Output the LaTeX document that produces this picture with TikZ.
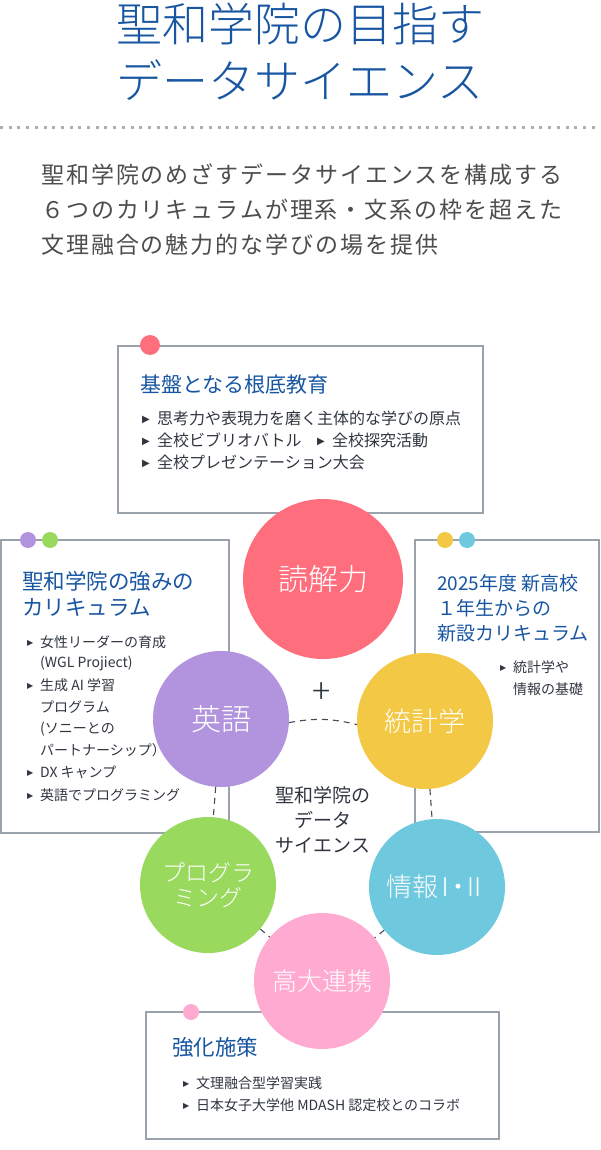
\documentclass[tikz,border=0pt]{standalone}
\usepackage{fontspec}
\setmainfont{Noto Sans CJK JP}
\newfontfamily\trifont{DejaVu Sans}
\newfontfamily\widefont[LetterSpace=8.5]{Noto Sans CJK JP}
\newfontfamily\lightfont{Noto Sans CJK JP Light}
\usepackage{tikz}
\usetikzlibrary{positioning}

\definecolor{titleblue}{RGB}{24,86,162}
\definecolor{leadgray}{RGB}{77,77,77}
\definecolor{itemgray}{RGB}{48,54,64}
\definecolor{panelgray}{RGB}{154,162,171}
\definecolor{dotgray}{RGB}{175,175,175}
\definecolor{linkgray}{RGB}{70,75,85}
\definecolor{dokkaired}{RGB}{255,110,125}
\definecolor{eigopurple}{RGB}{178,148,222}
\definecolor{toukeiyellow}{RGB}{242,200,68}
\definecolor{proggreen}{RGB}{152,217,94}
\definecolor{jouhoublue}{RGB}{110,200,222}
\definecolor{koudaipink}{RGB}{255,170,208}

\newcommand{\tribul}[2]{\makebox[#2][l]{\raisebox{1.5pt}{\trifont\fontsize{#1}{#1}\selectfont ▶}}}

\tikzset{
  panel/.style={draw=panelgray, line width=2.2pt, fill=white, inner sep=0pt},
  boxdot/.style={circle, fill=#1, inner sep=0pt, minimum size=16pt},
  ball/.style={circle, fill=#1, inner sep=0pt, minimum size=136pt, text=white, align=center},
  boxtitle/.style={anchor=west, inner sep=0pt, align=left, text=titleblue},
  item/.style={anchor=west, inner sep=0pt, text=itemgray, font=\fontsize{16}{16}\selectfont},
  smallitem/.style={item, font=\fontsize{14}{14}\selectfont},
  link/.style={draw=linkgray, dash pattern=on 6pt off 5pt, line width=1.1pt},
}

\begin{document}
\begin{tikzpicture}[x=1pt, y=-1pt]
  \useasboundingbox (0,0) rectangle (600,1150);

  % heading
  \node[align=center, text=titleblue, font=\lightfont\fontsize{46}{57}\selectfont] (head) at (300,52) {聖和学院の目指す\\データサイエンス};
  \draw[draw=dotgray, line width=3pt, dash pattern=on 3pt off 5.7pt] (0,128) -- (600,128);
  \node[anchor=west, align=left, inner sep=0pt, text=leadgray, font=\widefont\fontsize{23}{35}\selectfont] (lead) at (41,210)
    {聖和学院のめざすデータサイエンスを構成する\\６つのカリキュラムが理系・文系の枠を超えた\\文理融合の魅力的な学びの場を提供};

  % panels
  \node[panel, minimum width=365pt, minimum height=167pt] (kiban) at (300.5,429.5) {};
  \node[panel, minimum width=228pt, minimum height=293pt] (tsuyomi) at (115,686.5) {};
  \node[panel, minimum width=184pt, minimum height=292pt] (shinsetsu) at (507,686) {};
  \node[panel, minimum width=353pt, minimum height=127pt] (kyouka) at (322.5,1075.5) {};

  \node[boxtitle, font=\fontsize{21}{21}\selectfont] (kibant) at (140,385) {基盤となる根底教育};
  \node[item] (kiban1) at (142,418) {\tribul{10}{15pt}思考力や表現力を磨く主体的な学びの原点};
  \node[item] (kiban2) at (142,440) {\tribul{10}{15pt}全校ビブリオバトル};
  \node[item] (kiban3) at (317,440) {\tribul{10}{15pt}全校探究活動};
  \node[item] (kiban4) at (142,462) {\tribul{10}{15pt}全校プレゼンテーション大会};

  \node[boxtitle, font=\fontsize{21.5}{26}\selectfont] (tsuyomit) at (22,594) {聖和学院の強みの\\カリキュラム};
  \node[smallitem] (tsuyomi1) at (27,642) {\tribul{8}{13pt}女性リーダーの育成};
  \node[smallitem] (tsuyomi2) at (40,663) {(WGL Projiect)};
  \node[smallitem] (tsuyomi3) at (27,685) {\tribul{8}{13pt}生成 AI 学習};
  \node[smallitem] (tsuyomi4) at (40,707) {プログラム};
  \node[smallitem] (tsuyomi5) at (40,729) {(ソニーとの};
  \node[smallitem] (tsuyomi6) at (40,750) {パートナーシップ）};
  \node[smallitem] (tsuyomi7) at (27,772) {\tribul{8}{13pt}DX キャンプ};
  \node[smallitem] (tsuyomi8) at (27,795) {\tribul{8}{13pt}英語でプログラミング};

  \node[boxtitle, font=\fontsize{19}{25}\selectfont] (shinsetsut) at (437,608) {2025年度 新高校\\１年生からの\\新設カリキュラム};
  \node[smallitem] (shinsetsu1) at (500,667) {\tribul{8}{13pt}統計学や};
  \node[smallitem] (shinsetsu2) at (513,689) {情報の基礎};

  \node[boxtitle, font=\fontsize{21.5}{21.5}\selectfont] (kyoukat) at (172,1047) {強化施策};
  \node[smallitem] (kyouka1) at (183,1083) {\tribul{8}{13pt}文理融合型学習実践};
  \node[smallitem] (kyouka2) at (183,1105) {\tribul{8}{13pt}日本女子大学他 MDASH 認定校とのコラボ};

  \node[boxdot=dokkaired, minimum size=20pt] (kibandot) at (150,345) {};
  \node[boxdot=eigopurple] (tsuyomidota) at (28,540) {};
  \node[boxdot=proggreen] (tsuyomidotb) at (50,540) {};
  \node[boxdot=toukeiyellow] (shinsetsudota) at (445,540) {};
  \node[boxdot=jouhoublue] (shinsetsudotb) at (467,540) {};
  \node[boxdot=koudaipink] (kyoukadot) at (191,1012) {};

  % six subjects
  \node[ball=dokkaired, minimum size=160pt, font=\lightfont\fontsize{30}{30}\selectfont] (dokkai) at (323,579) {読解力};
  \node[ball=eigopurple, font=\lightfont\fontsize{30}{30}\selectfont] (eigo) at (221,719) {英語};
  \node[ball=toukeiyellow, font=\lightfont\fontsize{27}{27}\selectfont] (toukei) at (425,721) {統計学};
  \node[ball=proggreen, font=\lightfont\fontsize{23}{25}\selectfont] (prog) at (208,885) {プログラ\\ミング};
  \node[ball=jouhoublue, font=\lightfont\fontsize{26}{26}\selectfont] (jouhou) at (437,887) {情報\kern-6pt Ⅰ\kern-13pt・\kern-10pt Ⅱ};
  \node[ball=koudaipink, font=\lightfont\fontsize{25}{25}\selectfont] (koudai) at (322,981) {高大連携};

  \path[link]
    (eigo.-3) edge[bend left=12] (toukei.183)
    (eigo) edge (prog)
    (toukei) edge (jouhou)
    (prog) edge (koudai)
    (jouhou) edge (koudai);

  \node[text=itemgray, font=\lightfont\fontsize{34}{34}\selectfont] (plus) at (322,693) {+};
  \node[align=center, text=itemgray, font=\fontsize{19}{25}\selectfont] (core) at (323,820) {聖和学院の\\データ\\サイエンス};
\end{tikzpicture}
\end{document}
